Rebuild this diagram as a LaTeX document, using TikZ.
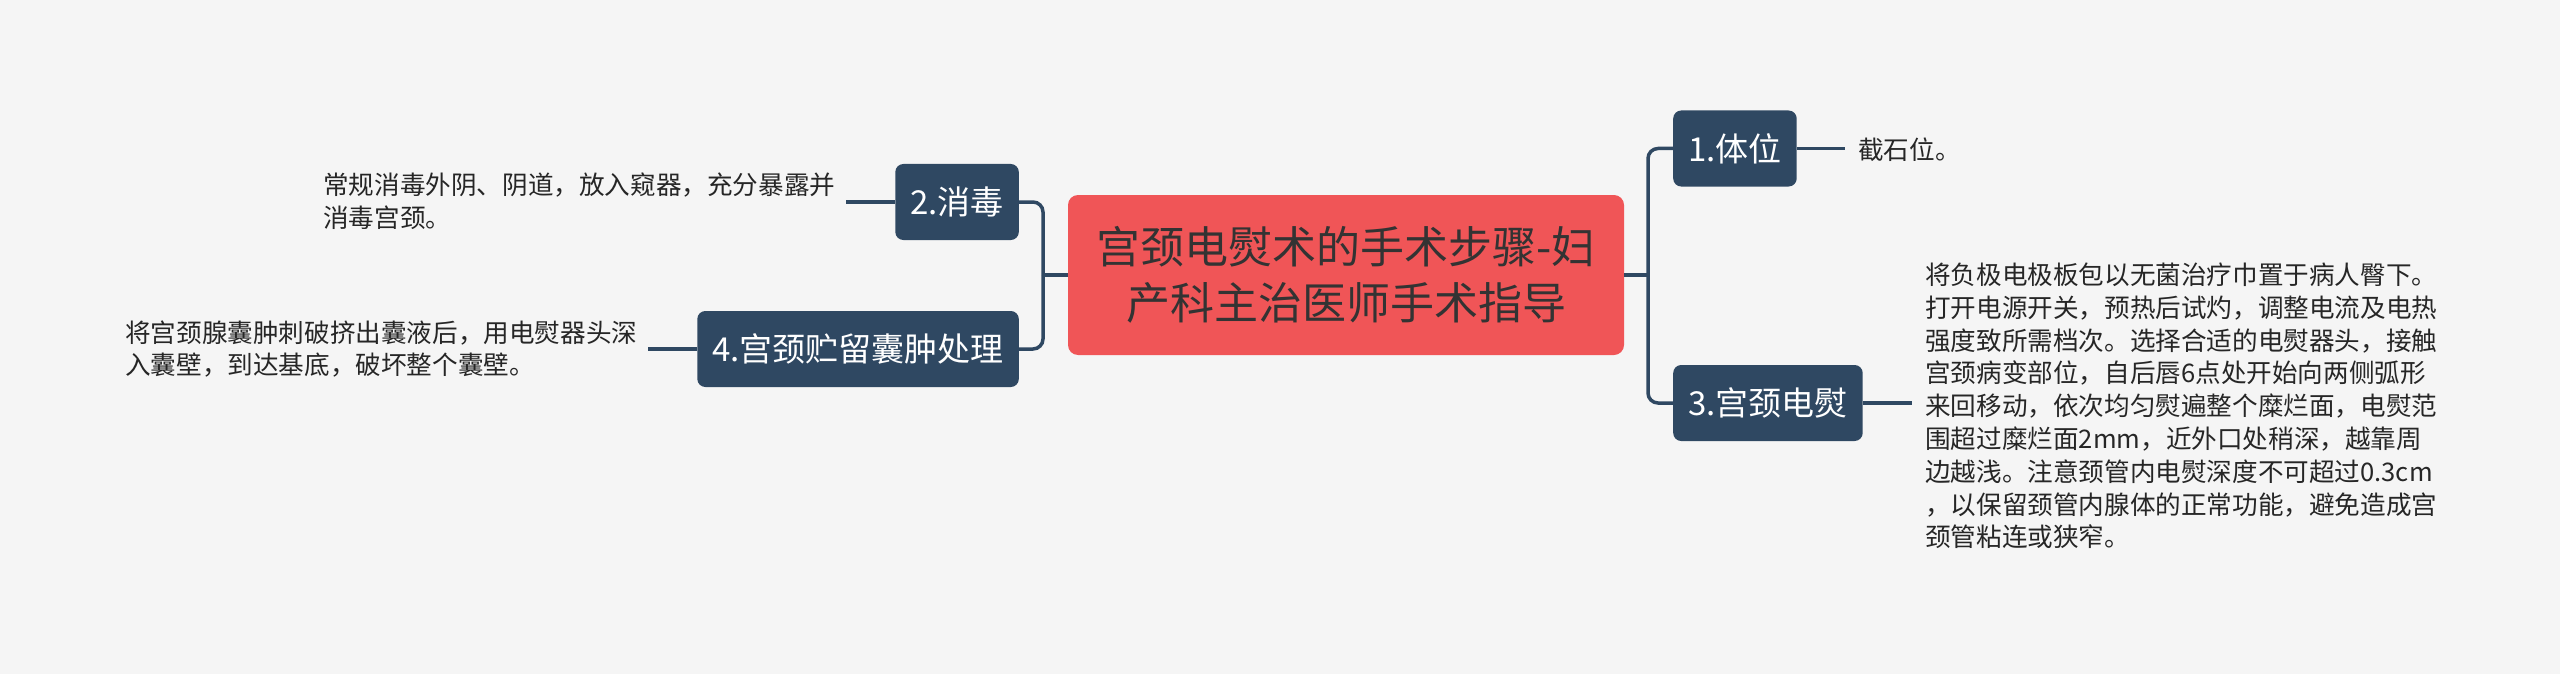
\documentclass[tikz,border=0pt]{standalone}
\usepackage{fontspec}
\setmainfont{Noto Sans CJK SC}
\definecolor{bg}{HTML}{F5F5F5}
\definecolor{rootred}{HTML}{F05557}
\definecolor{navy}{HTML}{2F4862}
\definecolor{txt}{HTML}{333333}
\definecolor{leaftxt}{HTML}{262626}
\tikzset{
  rootbox/.style={fill=rootred, rounded corners=10pt, text=txt, align=center,
    minimum width=556pt, minimum height=160pt, inner sep=0pt,
    font=\fontsize{44}{56}\selectfont},
  topicbox/.style={fill=navy, rounded corners=8pt, text=white,
    minimum height=76pt, inner xsep=15pt, inner ysep=0pt,
    font=\fontsize{33}{40}\selectfont},
  leaftext/.style={text=leaftxt, align=left, inner sep=0pt,
    font=\fontsize{25.6}{32.8}\selectfont},
  conn/.style={draw=navy, line width=3.5pt},
  rconn/.style={conn, rounded corners=10pt},
}
\begin{document}
\begin{tikzpicture}[x=1pt,y=-1pt]
\useasboundingbox[fill=bg] (0,0) rectangle (2560,674);

\node[rootbox] (root) at (1346,275) {宫颈电熨术的手术步骤-妇\\产科主治医师手术指导};

\node[topicbox, anchor=west] (n1) at (1673,148.5) {1.体位};
\node[topicbox, anchor=west] (n3) at (1673,403) {3.宫颈电熨};
\node[topicbox, anchor=east] (n2) at (1019,202) {2.消毒};
\node[topicbox, anchor=east] (n4) at (1019,349) {4.宫颈贮留囊肿处理};

\node[leaftext, anchor=west] (t1) at (1858,150) {截石位。};
\node[leaftext, anchor=west] (t3) at (1925,406) {将负极电极板包以无菌治疗巾置于病人臀下。\\
打开电源开关，预热后试灼，调整电流及电热\\
强度致所需档次。选择合适的电熨器头，接触\\
宫颈病变部位，自后唇6点处开始向两侧弧形\\
来回移动，依次均匀熨遍整个糜烂面，电熨范\\
围超过糜烂面2mm，近外口处稍深，越靠周\\
边越浅。注意颈管内电熨深度不可超过0.3cm\\
，以保留颈管内腺体的正常功能，避免造成宫\\
颈管粘连或狭窄。};
\node[leaftext, anchor=west] (t2) at (323,201) {常规消毒外阴、阴道，放入窥器，充分暴露并\\消毒宫颈。};
\node[leaftext, anchor=west] (t4) at (125,349) {将宫颈腺囊肿刺破挤出囊液后，用电熨器头深\\入囊壁，到达基底，破坏整个囊壁。};

% trunks
\coordinate (jr) at (1648,275);
\coordinate (jl) at (1043,275);
\draw[conn] (root.east) -- (jr);
\draw[conn] (root.west) -- (jl);
\draw[rconn] (jr) |- (n1.west);
\draw[rconn] (jr) |- (n3.west);
\draw[rconn] (jl) |- (n2.east);
\draw[rconn] (jl) |- (n4.east);

% leaves
\draw[conn] (n1.east) -- ([xshift=-13pt]n1.east -| t1.west);
\draw[conn] (n3.east) -- ([xshift=-13pt]n3.east -| t3.west);
\draw[conn] (n2.west) -- ([xshift=11pt]n2.west -| t2.east);
\draw[conn] (n4.west) -- ([xshift=11pt]n4.west -| t4.east);
\end{tikzpicture}
\end{document}
